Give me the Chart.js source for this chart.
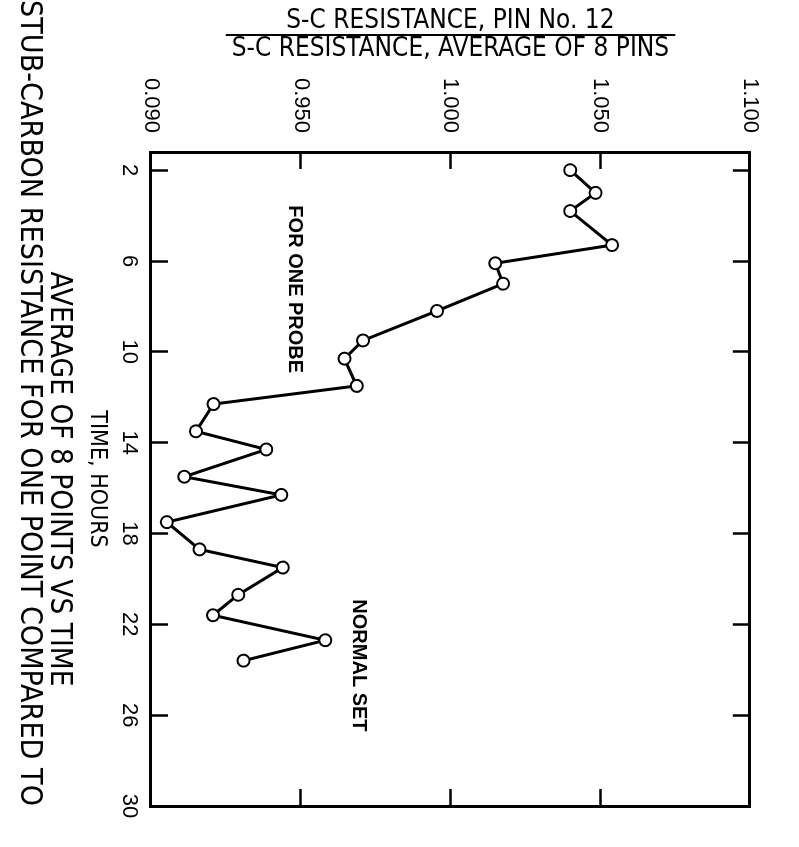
<!DOCTYPE html>
<html>
<head>
<meta charset="utf-8">
<script src="https://cdn.jsdelivr.net/npm/chart.js@4.4.1/dist/chart.umd.min.js"></script>
<style>
    html, body { margin: 0; padding: 0; background: #fff; overflow: hidden; }
    /* the figure is printed sideways: draw it upright, then turn it a quarter clockwise */
    #feuille { position: absolute; left: 0; top: 0; width: 847px; height: 799px;
               transform-origin: 0 0; transform: translateX(799px) rotate(90deg); }
</style>
</head>
<body>
<div id="feuille"><canvas id="graphe" width="847" height="799"></canvas></div>
<script>
// time (hours) and ratio pin 12 / average of 8 pins
var heures = [2.0, 3.0, 3.8, 5.3, 6.1, 7.0, 8.2, 9.5, 10.3, 11.5, 12.3,
              13.5, 14.3, 15.5, 16.3, 17.5, 18.7, 19.5, 20.7, 21.6, 22.7, 23.6];
var rapports = [1.040, 1.0485, 1.040, 1.054, 1.015, 1.0176, 0.9955, 0.9708, 0.9646, 0.9687, 0.9209,
                0.915, 0.9385, 0.9111, 0.9435, 0.9053, 0.9162, 0.944, 0.9291, 0.9207, 0.9582, 0.9309];

var ticksHeures = [2, 6, 10, 14, 18, 22, 26, 30];
var ticksRapport = [0.900, 0.950, 1.000, 1.050, 1.100];
var etiquettesRapport = ['0.090', '0.950', '1.000', '1.050', '1.100'];

var titreRapport = ['S-C RESISTANCE, PIN No. 12', 'S-C RESISTANCE, AVERAGE OF 8 PINS'];
var titreTemps = 'TIME, HOURS';
var legende1 = 'STUB-CARBON RESISTANCE FOR ONE POINT COMPARED TO';
var legende2 = 'AVERAGE OF 8 POINTS VS TIME';
var notes = ['FOR ONE PROBE', 'NORMAL SET'];

var points = [];
for (i = 0; i < heures.length; i++) {
    points.push({x: heures[i], y: rapports[i]});
}

var police = "'DejaVu Sans Condensed', 'DejaVu Sans', sans-serif";
var policeChiffres = "'Liberation Sans', Arial, sans-serif";

// inward tick marks on the four sides of the box
var grille = {drawOnChartArea: false, drawTicks: true, tickLength: -17, tickColor: '#000', tickWidth: 2.5};
var cadre = {display: true, color: '#000', width: 3};

var fixerTicks = function (valeurs) {
    return function (scale) {
        scale.ticks = valeurs.map(function (v) { return {value: v}; });
    };
};

// fraction bar of the ratio title + the two notes inside the plot
var dessinTextes = {
    id: 'dessinTextes',
    afterDraw: function (chart) {
        var ctx = chart.ctx;
        var sx = chart.scales.x, sy = chart.scales.y;
        ctx.save();
        ctx.font = "26px " + police;
        var large = ctx.measureText(titreRapport[1]).width + 12;
        var milieu = (sy.top + sy.bottom) / 2;
        ctx.strokeStyle = '#000';
        ctx.lineWidth = 2;
        ctx.beginPath();
        ctx.moveTo(sy.left + 7 + 28, milieu - large / 2);
        ctx.lineTo(sy.left + 7 + 28, milieu + large / 2);
        ctx.stroke();

        ctx.fillStyle = '#000';
        ctx.font = "bold 20px 'Liberation Sans', Arial, sans-serif";
        ctx.textAlign = 'left';
        ctx.textBaseline = 'middle';
        ctx.fillText(notes[0], sx.getPixelForValue(3.55), sy.getPixelForValue(0.948));
        ctx.fillText(notes[1], sx.getPixelForValue(20.9), sy.getPixelForValue(0.9694));
        ctx.restore();
    }
};

var ctx = document.getElementById('graphe').getContext('2d');
var chart = new Chart(ctx, {
    type: 'scatter',
    data: {
        datasets: [{
            data: points,
            showLine: true,
            borderColor: '#000',
            borderWidth: 3,
            pointRadius: 6,
            pointBorderWidth: 2,
            pointBackgroundColor: '#fff',
            pointBorderColor: '#000'
        }]
    },
    options: {
        responsive: false,
        animation: false,
        devicePixelRatio: 1,
        layout: {padding: {top: 20, right: 41, left: 0, bottom: 0}},
        scales: {
            x: {
                type: 'linear', position: 'bottom', min: 1.2, max: 30,
                afterBuildTicks: fixerTicks(ticksHeures),
                afterFit: function (s) { s.height = 77; },
                ticks: {color: '#000', padding: 26, font: {family: policeChiffres, size: 22}},
                grid: grille, border: cadre,
                title: {display: true, text: titreTemps, color: '#000', padding: {top: 0, bottom: 9},
                        font: {family: police, size: 23}}
            },
            x2: {
                type: 'linear', position: 'top', min: 1.2, max: 30,
                afterBuildTicks: fixerTicks(ticksHeures),
                afterFit: function (s) { s.height = 0; },
                ticks: {display: false},
                grid: grille, border: cadre
            },
            y: {
                type: 'linear', position: 'left', min: 0.9, max: 1.1,
                afterBuildTicks: fixerTicks(ticksRapport),
                afterFit: function (s) { s.width = 152; },
                ticks: {
                    color: '#000', padding: 36, font: {family: policeChiffres, size: 22},
                    callback: function (v) { return etiquettesRapport[ticksRapport.indexOf(v)]; }
                },
                grid: grille, border: cadre,
                title: {display: true, text: titreRapport, color: '#000', padding: {top: 7, bottom: 0},
                        font: {family: police, size: 26, lineHeight: '28px'}}
            },
            y2: {
                type: 'linear', position: 'right', min: 0.9, max: 1.1,
                afterBuildTicks: fixerTicks(ticksRapport),
                afterFit: function (s) { s.width = 0; },
                ticks: {display: false},
                grid: grille, border: cadre
            }
        },
        plugins: {
            legend: {display: false},
            tooltip: {enabled: false},
            title: {
                display: true, position: 'bottom', text: legende1, color: '#000',
                padding: {top: 0, bottom: 13},
                font: {family: police, size: 30.5, weight: 'normal', lineHeight: '31px'}
            },
            subtitle: {
                display: true, position: 'bottom', fullSize: false, text: legende2, color: '#000',
                padding: {top: 0, bottom: 0},
                font: {family: police, size: 29.5, weight: 'normal', lineHeight: '30px'}
            }
        }
    },
    plugins: [dessinTextes]
});
</script>
</body>
</html>
